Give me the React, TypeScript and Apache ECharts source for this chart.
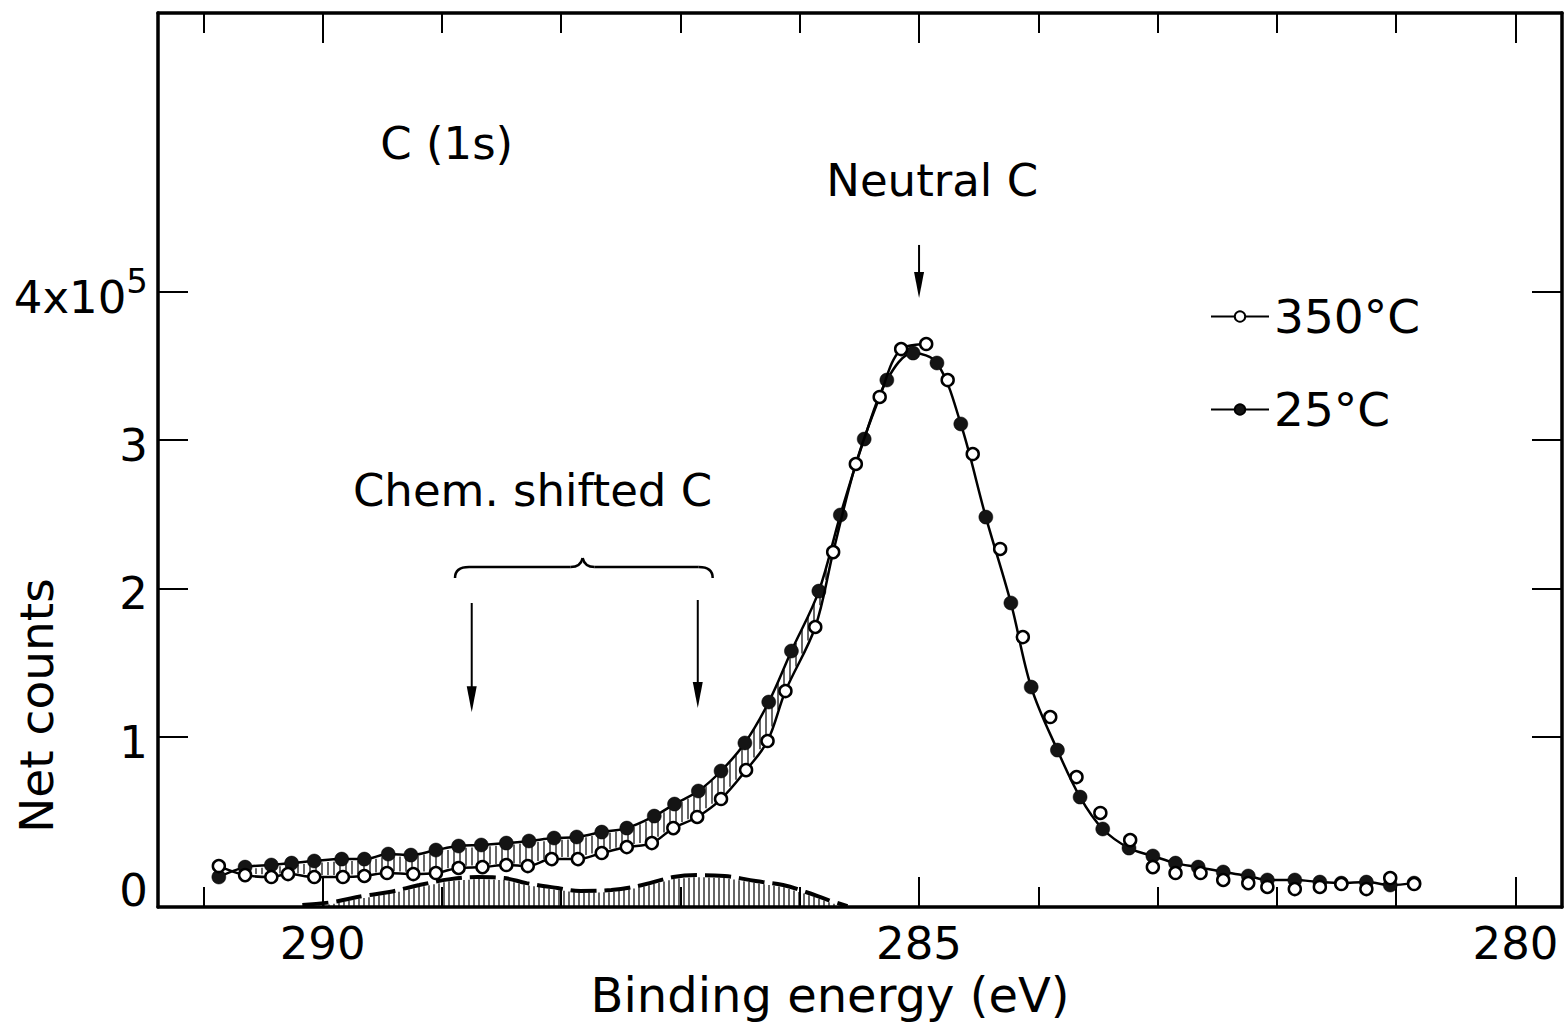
import React, { useEffect, useRef } from 'react';
import * as echarts from 'echarts';

// ---- axes ----
const X_MIN = 279.61;
const X_MAX = 291.38;
const Y_MIN = -0.148;
const Y_MAX = 5.88;
const X_MAJOR = [280, 285, 290];
const X_MINOR = [281, 282, 283, 284, 286, 287, 288, 289, 291];
const Y_TICKS = [1, 2, 3, 4];
const Y_LABELS = [0, 1, 2, 3, 4];
const X_TITLE = 'Binding energy (eV)';
const Y_TITLE = 'Net counts';

// ---- 25 °C (filled circles) ----
const energy25 = [
  290.87, 290.65, 290.43, 290.26, 290.07, 289.84, 289.65, 289.45, 289.26, 289.05,
  288.86, 288.67, 288.46, 288.27, 288.06, 287.87, 287.66, 287.45, 287.22, 287.05,
  286.85, 286.66, 286.46, 286.26, 286.07, 285.84, 285.66, 285.46, 285.27, 285.05,
  284.85, 284.65, 284.44, 284.23, 284.06, 283.84, 283.65, 283.46, 283.24, 283.04,
  282.85, 282.66, 282.45, 282.24, 282.08, 281.85, 281.64, 281.46, 281.25, 281.05,
  280.85,
];
const counts25 = [
  0.054, 0.121, 0.135, 0.148, 0.162, 0.175, 0.175, 0.209, 0.202, 0.236,
  0.263, 0.270, 0.283, 0.297, 0.317, 0.324, 0.357, 0.384, 0.465, 0.546,
  0.634, 0.769, 0.958, 1.234, 1.578, 1.982, 2.495, 3.007, 3.405, 3.587,
  3.520, 3.109, 2.481, 1.902, 1.335, 0.910, 0.593, 0.378, 0.249, 0.196,
  0.148, 0.121, 0.088, 0.061, 0.034, 0.034, 0.020, 0.013, 0.020, 0.000,
  0.013,
];

// ---- 350 °C (open circles) ----
const energy350 = [
  290.87, 290.65, 290.43, 290.29, 290.07, 289.83, 289.65, 289.46, 289.24, 289.05,
  288.86, 288.66, 288.46, 288.28, 288.08, 287.86, 287.66, 287.45, 287.24, 287.06,
  286.86, 286.66, 286.45, 286.27, 286.12, 285.87, 285.72, 285.53, 285.33, 285.15,
  284.94, 284.76, 284.55, 284.32, 284.13, 283.90, 283.68, 283.48, 283.23, 283.04,
  282.85, 282.64, 282.45, 282.24, 282.08, 281.85, 281.64, 281.46, 281.25, 281.05,
  280.85,
];
const counts350 = [
  0.128, 0.067, 0.054, 0.074, 0.054, 0.054, 0.061, 0.081, 0.074, 0.081,
  0.115, 0.121, 0.135, 0.128, 0.175, 0.175, 0.216, 0.256, 0.283, 0.384,
  0.459, 0.580, 0.775, 0.971, 1.308, 1.740, 2.245, 2.839, 3.291, 3.614,
  3.648, 3.405, 2.906, 2.266, 1.672, 1.133, 0.728, 0.486, 0.303, 0.121,
  0.081, 0.081, 0.034, 0.013, -0.013, -0.027, -0.013, 0.007, -0.027, 0.047,
  0.007,
];
const FIT350_POINTS = 31; // the 350 °C curve is drawn separately up to the peak

// ---- chemically shifted component (dashed, hatched) ----
const compEnergy = [
  290.17, 289.92, 289.66, 289.44, 289.19, 288.93, 288.70, 288.48, 288.29, 288.03,
  287.84, 287.58, 287.32, 287.06, 286.86, 286.63, 286.37, 286.14, 285.95, 285.76,
  285.60,
];
const compCounts = [
  -0.135, -0.115, -0.074, -0.047, 0.0, 0.040, 0.054, 0.047, 0.013, -0.020,
  -0.040, -0.034, 0.0, 0.054, 0.067, 0.061, 0.027, 0.0, -0.047, -0.101,
  -0.142,
];

// ---- annotations (data coordinates) ----
const LABEL_C1S = { text: 'C (1s)', x: 288.96, y: 5.0 };
const LABEL_NEUTRAL = { text: 'Neutral C', x: 284.89, y: 4.75 };
const ARROW_NEUTRAL = { x: 285.0, y1: 4.316, y2: 3.958 };
const LABEL_CHEM = { text: 'Chem. shifted C', x: 288.24, y: 2.66 };
const BRACE = { left: 288.89, right: 286.73, mid: 287.82, y: 2.144, cusp: 2.205, end: 2.07 };
const CHEM_ARROWS = [
  { x: 288.75, y1: 1.902, y2: 1.165 },
  { x: 286.855, y1: 1.922, y2: 1.194 },
];
const Y_TITLE_AT = 1.21; // vertical centre of the y-axis title, in counts

const FONT = 'DejaVu Sans';
const FS = 45;

const zip = (a: number[], b: number[]) => a.map((v, i) => [v, b[i]]);

function interp(pts: number[][], x: number): number {
  for (let i = 0; i < pts.length - 1; i++) {
    const a = pts[i], b = pts[i + 1];
    if (x >= a[0] && x <= b[0]) {
      const t = b[0] === a[0] ? 0 : (x - a[0]) / (b[0] - a[0]);
      return a[1] + t * (b[1] - a[1]);
    }
  }
  return NaN;
}

function hatchSeries(upper: number[][], lower: number[][] | null, eLo: number, eHi: number, step: number, lw: number, inset: number) {
  return {
    type: 'custom',
    coordinateSystem: 'cartesian2d',
    xAxisIndex: 0,
    yAxisIndex: 0,
    silent: true,
    z: 1,
    data: [[(eLo + eHi) / 2, 0]],
    renderItem: (_params: any, api: any) => {
      const up = upper.map((p) => api.coord(p)).sort((a: number[], b: number[]) => a[0] - b[0]);
      const lo = lower ? lower.map((p) => api.coord(p)).sort((a: number[], b: number[]) => a[0] - b[0]) : null;
      const bottom = api.coord([eLo, Y_MIN])[1];
      const xa = api.coord([eHi, 0])[0];
      const xb = api.coord([eLo, 0])[0];
      let left = Math.max(Math.min(xa, xb), up[0][0]);
      let right = Math.min(Math.max(xa, xb), up[up.length - 1][0]);
      if (lo) {
        left = Math.max(left, lo[0][0]);
        right = Math.min(right, lo[lo.length - 1][0]);
      }
      const children: any[] = [];
      for (let x = Math.ceil(left) + 1; x <= right - 1; x += step) {
        const yu = interp(up, x) + inset;
        const yl = lo ? interp(lo, x) - inset : bottom;
        if (yl - yu > 1.5) {
          children.push({
            type: 'line',
            shape: { x1: x, y1: yu, x2: x, y2: yl },
            style: { stroke: '#000', lineWidth: lw },
          });
        }
      }
      return { type: 'group', children };
    },
  };
}

const openSymbol = {
  symbol: 'circle',
  symbolSize: 12,
  itemStyle: { color: '#ffffff', borderColor: '#000', borderWidth: 2.5, opacity: 1 },
};

export default function App() {
  const ref = useRef<HTMLDivElement>(null);

  useEffect(() => {
    if (!ref.current) return;
    const chart = echarts.init(ref.current, null, { renderer: 'svg' });

    const pts25 = zip(energy25, counts25);
    const pts350 = zip(energy350, counts350);
    const comp = zip(compEnergy, compCounts);

    const frame = { show: true, onZero: false, lineStyle: { color: '#000', width: 3.5 } };
    const noLine = { show: false, onZero: false };
    const baseX = {
      type: 'value',
      gridIndex: 0,
      inverse: true,
      min: X_MIN,
      max: X_MAX,
      splitLine: { show: false },
    };

    const option: any = {
      animation: false,
      backgroundColor: '#ffffff',
      textStyle: { fontFamily: FONT, color: '#000' },
      grid: { left: 158, right: 5, top: 13, bottom: 128, containLabel: false, outerBoundsMode: 'none' },
      legend: {
        data: [{ name: '350°C' }, { name: '25°C' }],
        orient: 'vertical',
        left: 1205,
        top: 288,
        itemWidth: 58,
        itemHeight: 13,
        itemGap: 46,
        selectedMode: false,
        textStyle: { fontSize: 47, fontFamily: FONT, color: '#000' },
      },
      xAxis: [
        {
          ...baseX,
          position: 'bottom',
          axisLine: frame,
          axisTick: { show: true, inside: true, length: 30, customValues: X_MAJOR, lineStyle: { color: '#000', width: 2 } },
          axisLabel: { show: true, customValues: X_MAJOR, fontSize: FS, fontFamily: FONT, color: '#000', margin: 14 },
          name: X_TITLE,
          nameLocation: 'middle',
          nameGap: 64,
          nameTextStyle: { fontSize: 48, fontFamily: FONT, color: '#000', padding: [0, 60, 0, 0] },
        },
        {
          ...baseX,
          position: 'bottom',
          axisLine: noLine,
          axisTick: { show: true, inside: true, length: 20, customValues: X_MINOR, lineStyle: { color: '#000', width: 2 } },
          axisLabel: { show: false },
        },
        {
          ...baseX,
          position: 'top',
          axisLine: frame,
          axisTick: { show: true, inside: true, length: 30, customValues: X_MAJOR, lineStyle: { color: '#000', width: 2 } },
          axisLabel: { show: false },
        },
        {
          ...baseX,
          position: 'top',
          axisLine: noLine,
          axisTick: { show: true, inside: true, length: 20, customValues: X_MINOR, lineStyle: { color: '#000', width: 2 } },
          axisLabel: { show: false },
        },
      ],
      yAxis: [
        {
          type: 'value',
          position: 'left',
          min: Y_MIN,
          max: Y_MAX,
          splitLine: { show: false },
          axisLine: frame,
          axisTick: { show: true, inside: true, length: 30, customValues: Y_TICKS, lineStyle: { color: '#000', width: 2 } },
          axisLabel: {
            show: true,
            customValues: Y_LABELS,
            margin: 10,
            formatter: (v: number) => (v === 4 ? '{b|4x10}{s|5}' : `{b|${v}}`),
            rich: {
              b: { fontSize: FS, fontFamily: FONT, color: '#000', verticalAlign: 'bottom', lineHeight: 56 },
              s: { fontSize: 34, fontFamily: FONT, color: '#000', verticalAlign: 'top', lineHeight: 34 },
            },
          },
        },
        {
          type: 'value',
          position: 'right',
          min: Y_MIN,
          max: Y_MAX,
          splitLine: { show: false },
          axisLine: frame,
          axisTick: { show: true, inside: true, length: 30, customValues: Y_TICKS, lineStyle: { color: '#000', width: 2 } },
          axisLabel: { show: false },
        },
      ],
      series: [
        {
          name: '25°C',
          type: 'line',
          data: pts25,
          smooth: 0.35,
          symbol: 'circle',
          symbolSize: 14,
          showAllSymbol: true,
          itemStyle: { color: '#141414', borderColor: '#000', borderWidth: 0.5, opacity: 1 },
          lineStyle: { color: '#000', width: 2.5 },
          emphasis: { disabled: true },
          z: 4,
        },
        {
          name: '350°C',
          type: 'line',
          data: pts350.slice(0, FIT350_POINTS),
          smooth: 0.35,
          showAllSymbol: true,
          ...openSymbol,
          lineStyle: { color: '#000', width: 2.5 },
          emphasis: { disabled: true },
          z: 5,
        },
        {
          name: '350°C',
          type: 'scatter',
          data: pts350.slice(FIT350_POINTS),
          ...openSymbol,
          emphasis: { disabled: true },
          z: 5,
        },
        {
          name: 'Chem. shifted component',
          type: 'line',
          data: comp,
          smooth: 0.4,
          symbol: 'none',
          lineStyle: { color: '#000', width: 4, type: [26, 8] },
          emphasis: { disabled: true },
          z: 2,
        },
        hatchSeries(pts25, pts350, 285.45, 291.0, 6, 1.2, 2),
        hatchSeries(comp, null, 285.5, 290.3, 5, 1.2, 2),
      ],
    };

    chart.setOption(option);

    const P = (x: number, y: number) => chart.convertToPixel({ seriesIndex: 0 }, [x, y]) as number[];
    const txt = (t: { text: string; x: number; y: number }) => {
      const [px, py] = P(t.x, t.y);
      return {
        type: 'text',
        x: px,
        y: py,
        silent: true,
        style: { text: t.text, fontSize: FS, fontFamily: FONT, fill: '#000', align: 'center', verticalAlign: 'middle' },
      };
    };
    const arrow = (x: number, y1: number, y2: number) => {
      const [px, py1] = P(x, y1);
      const [, py2] = P(x, y2);
      return [
        { type: 'line', silent: true, shape: { x1: px, y1: py1, x2: px, y2: py2 - 20 }, style: { stroke: '#000', lineWidth: 2 } },
        {
          type: 'polygon',
          silent: true,
          shape: { points: [[px - 5, py2 - 26], [px + 5, py2 - 26], [px, py2]] },
          style: { fill: '#000' },
        },
      ];
    };

    const [bl, by] = P(BRACE.left, BRACE.y);
    const [br] = P(BRACE.right, BRACE.y);
    const [bm, bc] = P(BRACE.mid, BRACE.cusp);
    const [, be] = P(BRACE.left, BRACE.end);
    const braceStyle = { stroke: '#000', lineWidth: 2.5, fill: 'none' };
    const brace = [
      { type: 'bezierCurve', silent: true, shape: { x1: bl, y1: be, cpx1: bl, cpy1: by, x2: bl + 14, y2: by }, style: braceStyle },
      { type: 'line', silent: true, shape: { x1: bl + 14, y1: by, x2: bm - 12, y2: by }, style: braceStyle },
      { type: 'bezierCurve', silent: true, shape: { x1: bm - 12, y1: by, cpx1: bm - 2, cpy1: by, x2: bm, y2: bc }, style: braceStyle },
      { type: 'bezierCurve', silent: true, shape: { x1: bm, y1: bc, cpx1: bm + 2, cpy1: by, x2: bm + 12, y2: by }, style: braceStyle },
      { type: 'line', silent: true, shape: { x1: bm + 12, y1: by, x2: br - 14, y2: by }, style: braceStyle },
      { type: 'bezierCurve', silent: true, shape: { x1: br - 14, y1: by, cpx1: br, cpy1: by, x2: br, y2: be }, style: braceStyle },
    ];

    const [, yTitleY] = P(X_MAX, Y_TITLE_AT);

    chart.setOption({
      graphic: [
        {
          type: 'text',
          x: 36,
          y: yTitleY,
          rotation: Math.PI / 2,
          silent: true,
          style: { text: Y_TITLE, fontSize: 47, fontFamily: FONT, fill: '#000', align: 'center', verticalAlign: 'middle' },
        },
        txt(LABEL_C1S),
        txt(LABEL_NEUTRAL),
        txt(LABEL_CHEM),
        ...arrow(ARROW_NEUTRAL.x, ARROW_NEUTRAL.y1, ARROW_NEUTRAL.y2),
        ...CHEM_ARROWS.flatMap((a) => arrow(a.x, a.y1, a.y2)),
        ...brace,
      ],
    });

    return () => chart.dispose();
  }, []);

  return (
    <div
      ref={ref}
      style={{ position: 'fixed', left: 0, top: 0, width: 1567, height: 1035, background: '#fff' }}
    />
  );
}
